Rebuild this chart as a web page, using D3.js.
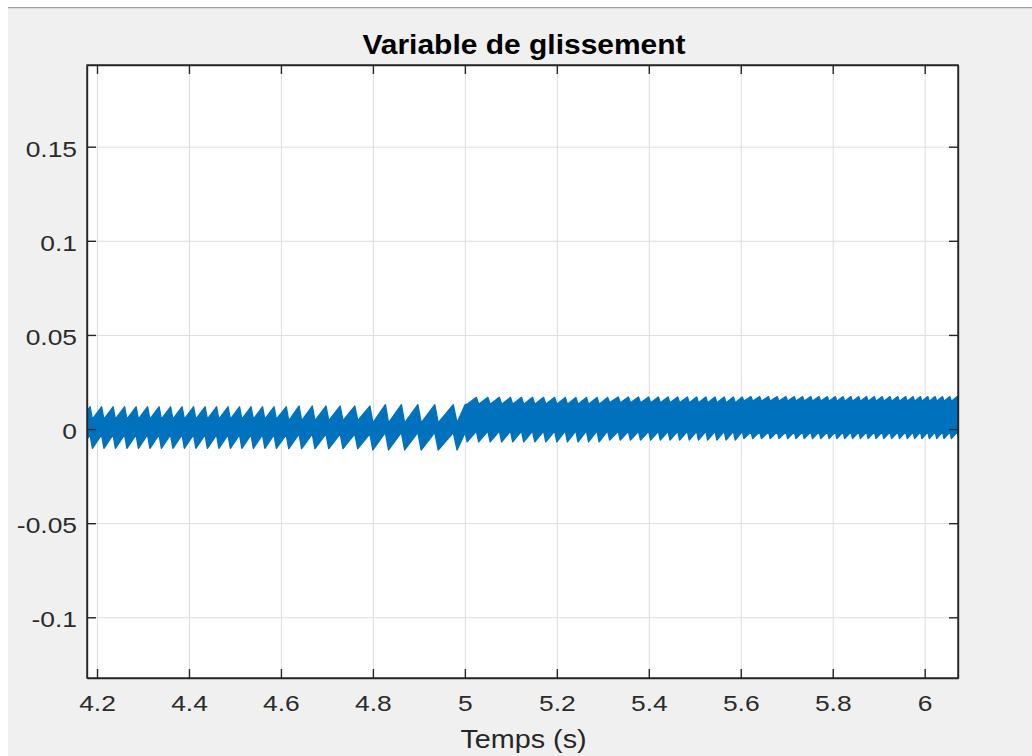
<!DOCTYPE html>
<html lang="fr">
<head>
<meta charset="UTF-8">
<title>Variable de glissement</title>
<script src="https://d3js.org/d3.v7.min.js"></script>
<style>
  body { margin: 0; background: #fff; }
  svg { display: block; font-family: "Liberation Sans", Arial, sans-serif; }
  .axis path, .axis line { stroke: #262626; stroke-width: 1.4px; }
  .axis text { fill: #2b2b2b; font-size: 22px; }
  .grid line { stroke: #dedede; stroke-width: 1px; }
  .grid path { display: none; }
</style>
</head>
<body>
<div id="chart"></div>
<script>
// tick values / labels
const xTicks = [4.2, 4.4, 4.6, 4.8, 5, 5.2, 5.4, 5.6, 5.8, 6];
const xLabels = ["4.2", "4.4", "4.6", "4.8", "5", "5.2", "5.4", "5.6", "5.8", "6"];
const yTicks = [-0.1, -0.05, 0, 0.05, 0.1, 0.15];
const yLabels = ["-0.1", "-0.05", "0", "0.05", "0.1", "0.15"];

// times (s) where each sawtooth of the sliding variable drops
const dropTimes = [
  4.165, 4.190, 4.215, 4.240, 4.265, 4.290, 4.315, 4.340, 4.365, 4.390, 4.415, 4.440, 4.465,
  4.490, 4.515, 4.540, 4.565, 4.590,
  4.617, 4.645, 4.674, 4.704, 4.735, 4.767, 4.800,
  4.834, 4.869, 4.905, 4.942, 4.983,
  5.005, 5.030, 5.055, 5.080, 5.104, 5.128, 5.152, 5.176, 5.200, 5.223, 5.246, 5.269, 5.292,
  5.315, 5.338, 5.360, 5.382, 5.404,
  5.425, 5.446, 5.467, 5.488, 5.508, 5.528, 5.548, 5.568, 5.588, 5.607, 5.626, 5.645, 5.664,
  5.683, 5.702, 5.720, 5.738, 5.756, 5.774, 5.792,
  5.809, 5.826, 5.843, 5.860, 5.877, 5.894, 5.911, 5.928, 5.945, 5.962, 5.978, 5.994, 6.010,
  6.026, 6.042, 6.058, 6.074, 6.090
];

// band levels per time segment (segment starts at segStart[k])
const segStart = [4.1, 4.6, 4.8, 5.0, 5.3, 5.6];
const hiPeak = [0.0118, 0.0122, 0.0129, 0.0168, 0.0170, 0.0172];
const hiBase = [0.0052, 0.0045, 0.0033, 0.0132, 0.0140, 0.0148];
const loBase = [-0.0030, -0.0025, -0.0018, -0.0010, -0.0012, -0.0014];
const loTip = [-0.0102, -0.0104, -0.0111, -0.0068, -0.0058, -0.0050];

const W = 1032, H = 756;
const plot = { left: 87, right: 958, top: 65, bottom: 678 };

const x = d3.scaleLinear().domain([4.17825, 6.07242]).range([plot.left, plot.right]);
const y = d3.scaleLinear().domain([-0.13225, 0.1934]).range([plot.bottom, plot.top]);

const svg = d3.select("#chart").append("svg")
    .attr("width", W)
    .attr("height", H);

// figure window background
svg.append("rect").attr("x", 8).attr("y", 8).attr("width", W - 8).attr("height", H - 8).attr("fill", "#f0f0f0");
svg.append("line").attr("x1", 8).attr("x2", W).attr("y1", 7.5).attr("y2", 7.5).attr("stroke", "#a0a0a0");
svg.append("line").attr("x1", 8).attr("x2", W).attr("y1", 8.5).attr("y2", 8.5).attr("stroke", "#dadada");

svg.append("rect")
    .attr("x", plot.left).attr("y", plot.top)
    .attr("width", plot.right - plot.left).attr("height", plot.bottom - plot.top)
    .attr("fill", "#fff");

// grid
svg.append("g").attr("class", "grid")
    .attr("transform", "translate(0," + plot.bottom + ")")
    .call(d3.axisBottom(x).tickValues(xTicks).tickSize(-(plot.bottom - plot.top)).tickFormat(""));
svg.append("g").attr("class", "grid")
    .attr("transform", "translate(" + plot.left + ",0)")
    .call(d3.axisLeft(y).tickValues(yTicks).tickSize(-(plot.right - plot.left)).tickFormat(""));

// signal band
function seg(t) {
  let k = 0;
  for (let i = 0; i < segStart.length; i++) if (t >= segStart[i]) k = i;
  return k;
}
const band = [];
for (let i = 0; i < dropTimes.length - 1; i++) {
  const t0 = dropTimes[i], t1 = dropTimes[i + 1], s = seg(t0);
  band.push({ t: t0, hi: hiBase[s], lo: loTip[s] });
  band.push({ t: t0 + 0.8 * (t1 - t0), hi: hiPeak[s], lo: loBase[s] });
}

svg.append("clipPath").attr("id", "clip")
  .append("rect")
    .attr("x", plot.left).attr("y", plot.top)
    .attr("width", plot.right - plot.left).attr("height", plot.bottom - plot.top);

svg.append("path")
    .datum(band)
    .attr("clip-path", "url(#clip)")
    .attr("fill", "#0072bd")
    .attr("stroke", "#0072bd")
    .attr("stroke-width", 1.4)
    .attr("stroke-linejoin", "round")
    .attr("d", d3.area()
        .x(d => x(d.t))
        .y0(d => y(d.lo))
        .y1(d => y(d.hi)));

// axes (box, inward ticks)
const sx = 1.2;
svg.append("g").attr("class", "axis")
    .attr("transform", "translate(0," + plot.bottom + ")")
    .call(d3.axisBottom(x).tickValues(xTicks).tickSizeInner(-9).tickSizeOuter(0)
        .tickFormat((d, i) => xLabels[i]))
    .call(g => g.selectAll("text")
        .attr("y", 33).attr("dy", null)
        .attr("transform", "scale(" + sx + ",1)"));

svg.append("g").attr("class", "axis")
    .attr("transform", "translate(0," + plot.top + ")")
    .call(d3.axisTop(x).tickValues(xTicks).tickSizeInner(-9).tickSizeOuter(0).tickFormat(""));

svg.append("g").attr("class", "axis")
    .attr("transform", "translate(" + plot.left + ",0)")
    .call(d3.axisLeft(y).tickValues(yTicks).tickSizeInner(-9).tickSizeOuter(0)
        .tickFormat((d, i) => yLabels[i]))
    .call(g => g.selectAll("text")
        .attr("x", -10 / sx).attr("dy", null).attr("y", 9.5)
        .attr("transform", "scale(" + sx + ",1)"));

svg.append("g").attr("class", "axis")
    .attr("transform", "translate(" + plot.right + ",0)")
    .call(d3.axisRight(y).tickValues(yTicks).tickSizeInner(-9).tickSizeOuter(0).tickFormat(""));

svg.append("rect")
    .attr("x", plot.left).attr("y", plot.top)
    .attr("width", plot.right - plot.left).attr("height", plot.bottom - plot.top)
    .attr("fill", "none").attr("stroke", "#262626").attr("stroke-width", 1.4);

// title and axis label
svg.append("text")
    .attr("transform", "translate(524,54) scale(1.11,1)")
    .attr("text-anchor", "middle")
    .attr("font-size", 27)
    .attr("font-weight", "bold")
    .attr("fill", "#000")
    .text("Variable de glissement");

svg.append("text")
    .attr("transform", "translate(523.5,748) scale(1.15,1)")
    .attr("text-anchor", "middle")
    .attr("font-size", 25)
    .attr("fill", "#262626")
    .text("Temps (s)");
</script>
</body>
</html>
